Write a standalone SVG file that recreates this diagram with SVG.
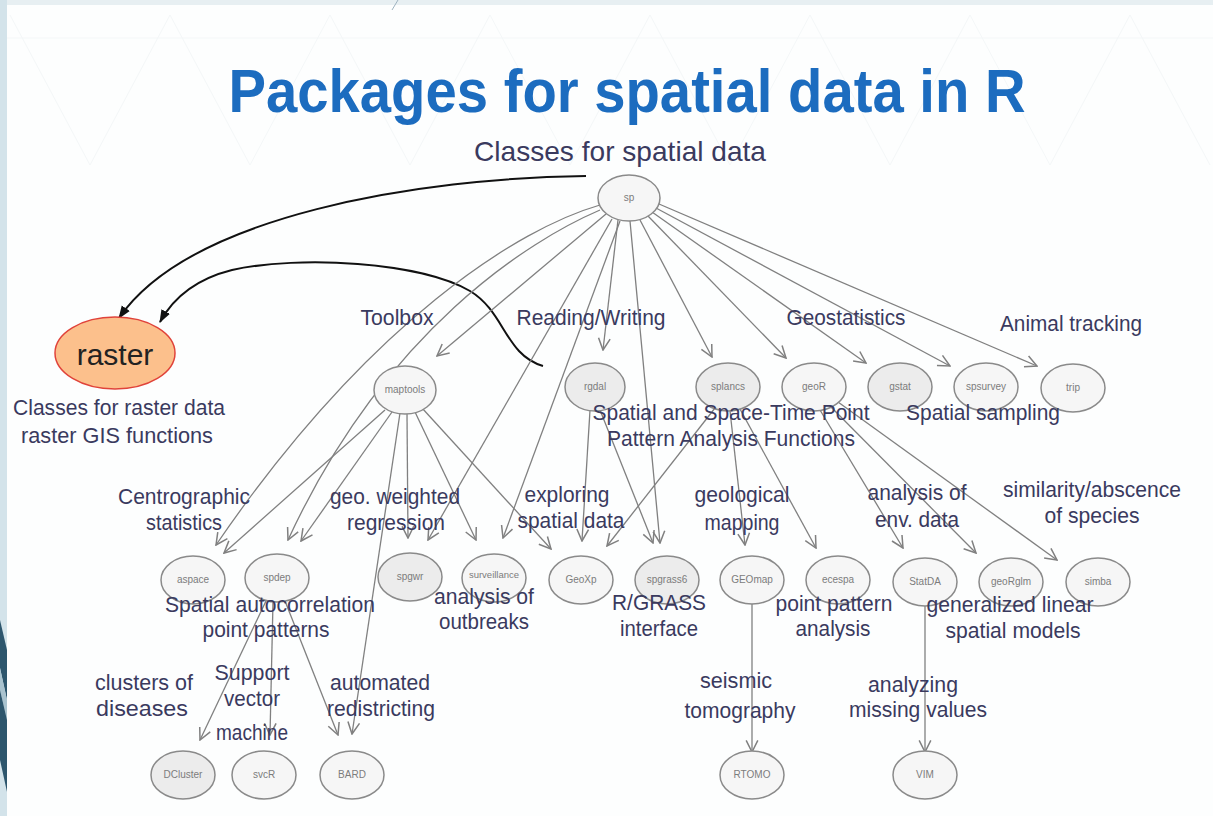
<svg xmlns="http://www.w3.org/2000/svg" width="1213" height="816" viewBox="0 0 1213 816">
<style>
.n{fill:#f6f6f6;stroke:#8a8a8a;stroke-width:1.5}
.g{fill:#ececec}
.nl{font-family:"Liberation Sans",Arial,sans-serif;font-size:10px;fill:#7c7c7c;text-anchor:middle}
.lb{font-family:"Liberation Sans",Arial,sans-serif;font-size:22.5px;fill:#3a3a5e;text-anchor:middle}
.e{fill:none;stroke:#808080;stroke-width:1.3;marker-end:url(#ga)}
.b{fill:none;stroke:#111;stroke-width:2;marker-end:url(#ba)}
.bg{stroke:#f4f7f8;stroke-width:1;fill:none}
</style>
<defs>
<marker id="ga" viewBox="0 0 12 12" refX="11" refY="6" markerWidth="14" markerHeight="14" markerUnits="userSpaceOnUse" orient="auto">
<path d="M1,1 L11,6 L1,11" fill="none" stroke="#808080" stroke-width="1.3"/>
</marker>
<marker id="ba" viewBox="0 0 12 12" refX="11" refY="6" markerWidth="13" markerHeight="13" markerUnits="userSpaceOnUse" orient="auto">
<path d="M0,1.5 L12,6 L0,10.5 Z" fill="#111"/>
</marker>
</defs>
<g id="background">
<rect width="1213" height="816" fill="#fdfefe"/>
<rect width="1213" height="5" fill="#e7eff2"/>
<line class="bg" x1="0" y1="38" x2="1213" y2="38"/>
<path class="bg" d="M10,15 L90,165 M170,15 L90,165 M170,15 L250,165 M330,15 L250,165 M330,15 L410,165 M490,15 L410,165 M490,15 L570,165 M650,15 L570,165 M650,15 L730,165 M810,15 L730,165 M810,15 L890,165 M970,15 L890,165 M970,15 L1050,165 M1130,15 L1050,165 M1130,15 L1210,165"/>
<rect x="0" y="0" width="7" height="816" fill="#d3e3ea"/>
<polygon points="0,620 7,650 7,700 0,668" fill="#2d566d"/>
<polygon points="0,668 7,700 7,720 0,690" fill="#a9c3cf"/>
<polygon points="0,690 7,720 7,792 0,760" fill="#2d566d"/>
<path d="M392,10 L398,0" stroke="#9fb3c0" stroke-width="1"/>
</g>
<text x="627" y="112" font-family="Liberation Sans,Arial,sans-serif" font-weight="bold" font-size="61" fill="#1c6cbf" text-anchor="middle" textLength="797" lengthAdjust="spacingAndGlyphs">Packages for spatial data in R</text>
<g id="connectors">
<path class="b" d="M586,176 C420,178 190,215 119,318"/>
<path class="b" d="M543,366 C505,355 505,312 470,291 C420,262 300,255 232,270 C192,280 172,300 160,322"/>
<path class="e" d="M606,214 L437,356"/>
<path class="e" d="M618,220 L603,350"/>
<path class="e" d="M640,220 L712,357"/>
<path class="e" d="M648,216 L786,358"/>
<path class="e" d="M652,212 L866,363"/>
<path class="e" d="M656,208 L950,366"/>
<path class="e" d="M659,204 L1037,366"/>
<path class="e" d="M600,205 C520,228 370,320 216,545"/>
<path class="e" d="M600,210 C530,240 385,330 288,540"/>
<path class="e" d="M612,219 L428,540"/>
<path class="e" d="M620,221 L503,538"/>
<path class="e" d="M630,221 L660,543"/>
<path class="e" d="M385,410 L224,553"/>
<path class="e" d="M392,412 L301,541"/>
<path class="e" d="M400,413 L352,734"/>
<path class="e" d="M407,414 L408,538"/>
<path class="e" d="M415,412 L476,540"/>
<path class="e" d="M422,408 L551,549"/>
<path class="e" d="M590,410 L582,541"/>
<path class="e" d="M600,410 L653,543"/>
<path class="e" d="M715,408 L607,546"/>
<path class="e" d="M730,411 L745,545"/>
<path class="e" d="M740,409 L816,548"/>
<path class="e" d="M820,410 L903,548"/>
<path class="e" d="M830,406 L976,553"/>
<path class="e" d="M838,402 L1057,560"/>
<path class="e" d="M752,604 L752,752"/>
<path class="e" d="M925,606 L925,752"/>
<path class="e" d="M266,601 L200,740"/>
<path class="e" d="M273,602 L270,735"/>
<path class="e" d="M285,601 L338,735"/>
</g>
<g id="raster"><ellipse cx="115" cy="353" rx="60" ry="36" fill="#fcc08c" stroke="#e0433a" stroke-width="1.5"/><text x="115" y="365" font-family="Liberation Sans,Arial,sans-serif" font-size="30" fill="#222" text-anchor="middle">raster</text></g>
<g id="sp"><ellipse class="n" cx="629" cy="198" rx="31" ry="23"/><text class="nl" x="629" y="201">sp</text></g>
<g id="maptools"><ellipse class="n" cx="405" cy="390" rx="31" ry="24"/><text class="nl" x="405" y="393">maptools</text></g>
<g id="rgdal"><ellipse class="n g" cx="595" cy="387" rx="30" ry="24"/><text class="nl" x="595" y="390">rgdal</text></g>
<g id="splancs"><ellipse class="n g" cx="728" cy="387" rx="32" ry="24"/><text class="nl" x="728" y="390">splancs</text></g>
<g id="geoR"><ellipse class="n" cx="814" cy="387" rx="32" ry="24"/><text class="nl" x="814" y="390">geoR</text></g>
<g id="gstat"><ellipse class="n g" cx="900" cy="387" rx="32" ry="24"/><text class="nl" x="900" y="390">gstat</text></g>
<g id="spsurvey"><ellipse class="n" cx="986" cy="387" rx="32" ry="24"/><text class="nl" x="986" y="390">spsurvey</text></g>
<g id="trip"><ellipse class="n" cx="1073" cy="388" rx="32" ry="24"/><text class="nl" x="1073" y="391">trip</text></g>
<g id="aspace"><ellipse class="n" cx="193" cy="580" rx="32" ry="24"/><text class="nl" x="193" y="583">aspace</text></g>
<g id="spdep"><ellipse class="n" cx="277" cy="578" rx="32" ry="24"/><text class="nl" x="277" y="581">spdep</text></g>
<g id="spgwr"><ellipse class="n g" cx="410" cy="577" rx="32" ry="24"/><text class="nl" x="410" y="580">spgwr</text></g>
<g id="surveillance"><ellipse class="n" cx="494" cy="578" rx="32" ry="24"/><text class="nl" x="494" y="578" style="font-size:9.5px">surveillance</text></g>
<g id="GeoXp"><ellipse class="n" cx="581" cy="580" rx="32" ry="24"/><text class="nl" x="581" y="583">GeoXp</text></g>
<g id="spgrass6"><ellipse class="n g" cx="667" cy="580" rx="32" ry="24"/><text class="nl" x="667" y="583">spgrass6</text></g>
<g id="GEOmap"><ellipse class="n" cx="752" cy="580" rx="32" ry="24"/><text class="nl" x="752" y="583">GEOmap</text></g>
<g id="ecespa"><ellipse class="n" cx="838" cy="580" rx="32" ry="24"/><text class="nl" x="838" y="583">ecespa</text></g>
<g id="StatDA"><ellipse class="n" cx="925" cy="582" rx="32" ry="24"/><text class="nl" x="925" y="585">StatDA</text></g>
<g id="geoRglm"><ellipse class="n" cx="1011" cy="582" rx="32" ry="24"/><text class="nl" x="1011" y="585">geoRglm</text></g>
<g id="simba"><ellipse class="n" cx="1098" cy="582" rx="32" ry="24"/><text class="nl" x="1098" y="585">simba</text></g>
<g id="DCluster"><ellipse class="n g" cx="183" cy="775" rx="32" ry="24"/><text class="nl" x="183" y="778">DCluster</text></g>
<g id="svcR"><ellipse class="n" cx="264" cy="775" rx="32" ry="24"/><text class="nl" x="264" y="778">svcR</text></g>
<g id="BARD"><ellipse class="n" cx="352" cy="775" rx="32" ry="24"/><text class="nl" x="352" y="778">BARD</text></g>
<g id="RTOMO"><ellipse class="n" cx="752" cy="775" rx="32" ry="24"/><text class="nl" x="752" y="778">RTOMO</text></g>
<g id="VIM"><ellipse class="n" cx="925" cy="775" rx="32" ry="24"/><text class="nl" x="925" y="778">VIM</text></g>
<g id="labels">
<text class="lb" x="620" y="161" style="font-size:28px" textLength="292" lengthAdjust="spacingAndGlyphs">Classes for spatial data</text>
<text class="lb" x="397" y="325" textLength="73" lengthAdjust="spacingAndGlyphs">Toolbox</text>
<text class="lb" x="591" y="325" textLength="149" lengthAdjust="spacingAndGlyphs">Reading/Writing</text>
<text class="lb" x="846" y="325" textLength="119" lengthAdjust="spacingAndGlyphs">Geostatistics</text>
<text class="lb" x="1071" y="331" textLength="142" lengthAdjust="spacingAndGlyphs">Animal tracking</text>
<text class="lb" x="119" y="415" textLength="212" lengthAdjust="spacingAndGlyphs">Classes for raster data</text>
<text class="lb" x="117" y="443" textLength="192" lengthAdjust="spacingAndGlyphs">raster GIS functions</text>
<text class="lb" x="731" y="420" textLength="277" lengthAdjust="spacingAndGlyphs">Spatial and Space-Time Point</text>
<text class="lb" x="731" y="446" textLength="248" lengthAdjust="spacingAndGlyphs">Pattern Analysis Functions</text>
<text class="lb" x="983" y="420" textLength="154" lengthAdjust="spacingAndGlyphs">Spatial sampling</text>
<text class="lb" x="184" y="504" textLength="132" lengthAdjust="spacingAndGlyphs">Centrographic</text>
<text class="lb" x="184" y="530" textLength="76" lengthAdjust="spacingAndGlyphs">statistics</text>
<text class="lb" x="395" y="504" textLength="130" lengthAdjust="spacingAndGlyphs">geo. weighted</text>
<text class="lb" x="396" y="530" textLength="98" lengthAdjust="spacingAndGlyphs">regression</text>
<text class="lb" x="567" y="502" textLength="85" lengthAdjust="spacingAndGlyphs">exploring</text>
<text class="lb" x="571" y="528" textLength="107" lengthAdjust="spacingAndGlyphs">spatial data</text>
<text class="lb" x="742" y="502" textLength="95" lengthAdjust="spacingAndGlyphs">geological</text>
<text class="lb" x="742" y="530" textLength="75" lengthAdjust="spacingAndGlyphs">mapping</text>
<text class="lb" x="917" y="500" textLength="99" lengthAdjust="spacingAndGlyphs">analysis of</text>
<text class="lb" x="917" y="527" textLength="84" lengthAdjust="spacingAndGlyphs">env. data</text>
<text class="lb" x="1092" y="497" textLength="178" lengthAdjust="spacingAndGlyphs">similarity/abscence</text>
<text class="lb" x="1092" y="523" textLength="95" lengthAdjust="spacingAndGlyphs">of species</text>
<text class="lb" x="270" y="612" textLength="210" lengthAdjust="spacingAndGlyphs">Spatial autocorrelation</text>
<text class="lb" x="266" y="637" textLength="127" lengthAdjust="spacingAndGlyphs">point patterns</text>
<text class="lb" x="484" y="604" textLength="100" lengthAdjust="spacingAndGlyphs">analysis of</text>
<text class="lb" x="484" y="629" textLength="90" lengthAdjust="spacingAndGlyphs">outbreaks</text>
<text class="lb" x="659" y="610" textLength="94" lengthAdjust="spacingAndGlyphs">R/GRASS</text>
<text class="lb" x="659" y="636" textLength="78" lengthAdjust="spacingAndGlyphs">interface</text>
<text class="lb" x="834" y="611" textLength="117" lengthAdjust="spacingAndGlyphs">point pattern</text>
<text class="lb" x="833" y="636" textLength="75" lengthAdjust="spacingAndGlyphs">analysis</text>
<text class="lb" x="1010" y="612" textLength="167" lengthAdjust="spacingAndGlyphs">generalized linear</text>
<text class="lb" x="1013" y="638" textLength="135" lengthAdjust="spacingAndGlyphs">spatial models</text>
<text class="lb" x="144" y="690" textLength="98" lengthAdjust="spacingAndGlyphs">clusters of</text>
<text class="lb" x="142" y="716" textLength="92" lengthAdjust="spacingAndGlyphs">diseases</text>
<text class="lb" x="252" y="680" textLength="75" lengthAdjust="spacingAndGlyphs">Support</text>
<text class="lb" x="252" y="706" textLength="56" lengthAdjust="spacingAndGlyphs">vector</text>
<text class="lb" x="252" y="740" textLength="72" lengthAdjust="spacingAndGlyphs">machine</text>
<text class="lb" x="380" y="690" textLength="100" lengthAdjust="spacingAndGlyphs">automated</text>
<text class="lb" x="381" y="716" textLength="108" lengthAdjust="spacingAndGlyphs">redistricting</text>
<text class="lb" x="736" y="688" textLength="72" lengthAdjust="spacingAndGlyphs">seismic</text>
<text class="lb" x="740" y="718" textLength="111" lengthAdjust="spacingAndGlyphs">tomography</text>
<text class="lb" x="913" y="692" textLength="90" lengthAdjust="spacingAndGlyphs">analyzing</text>
<text class="lb" x="918" y="717" textLength="138" lengthAdjust="spacingAndGlyphs">missing values</text>
</g>
</svg>
